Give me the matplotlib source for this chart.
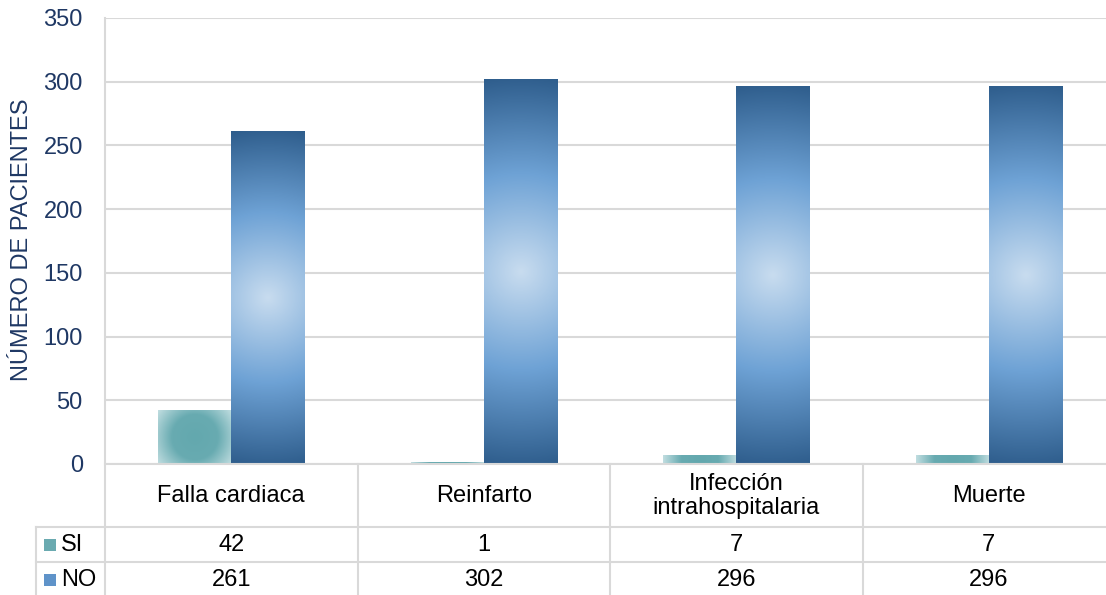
import numpy as np
import matplotlib
matplotlib.use("Agg")
import matplotlib.pyplot as plt
from matplotlib.colors import LinearSegmentedColormap
from matplotlib.patches import Rectangle

plt.rcParams['font.family'] = ['Liberation Sans', 'DejaVu Sans']

# ---- data ----
categories = ["Falla cardiaca", "Reinfarto", "Infección\nintrahospitalaria", "Muerte"]
series_names = ["SI", "NO"]
si_values = [42, 1, 7, 7]
no_values = [261, 302, 296, 296]
y_ticks = [0, 50, 100, 150, 200, 250, 300, 350]

W, H, DPI = 1106, 595, 100
fig = plt.figure(figsize=(W / DPI, H / DPI), dpi=DPI)

# plot area in pixels
left_px, right_px, top_px, zero_px = 105, 1115, 18, 464
ax = fig.add_axes([left_px / W, (H - zero_px) / H,
                   (right_px - left_px) / W, (zero_px - top_px) / H])

navy = "#1F3864"
grid_c = "#D9D9D9"
fs = 17

# gradients (distance from bar centre, normalised by half diagonal)
cmap_no = LinearSegmentedColormap.from_list(
    "no", [(0.0, "#C8DCEF"), (0.5, "#6EA2D5"), (1.0, "#2E5D8C")])
cmap_si = LinearSegmentedColormap.from_list(
    "si", [(0.0, "#63A8AE"), (0.5, "#68ABB1"), (1.0, "#C2DEE1")])

bar_w = 0.29
x = np.arange(len(categories))
px_per_x = (right_px - left_px) / 4.0
px_per_y = (zero_px - top_px) / 350.0


def gradient_bar(xc, value, cmap):
    wpx = max(int(round(bar_w * px_per_x)), 2)
    hpx = max(int(round(value * px_per_y)), 2)
    yy, xx = np.mgrid[0:hpx, 0:wpx]
    dx = (xx + 0.5) - wpx / 2.0
    dy = (yy + 0.5) - hpx / 2.0
    r = np.sqrt(dx ** 2 + dy ** 2) / np.sqrt((wpx / 2.0) ** 2 + (hpx / 2.0) ** 2)
    ax.imshow(r, cmap=cmap, vmin=0, vmax=1, aspect="auto",
              extent=(xc - bar_w / 2, xc + bar_w / 2, 0, value),
              interpolation="bilinear", zorder=3, origin="lower")


for i in x:
    gradient_bar(i - bar_w / 2, si_values[i], cmap_si)
    gradient_bar(i + bar_w / 2, no_values[i], cmap_no)

ax.set_xlim(-0.5, 3.5)
ax.set_ylim(0, 350)
ax.set_yticks(y_ticks)
ax.set_xticks([])
ax.tick_params(axis="y", length=0, pad=16, labelsize=fs, labelcolor=navy)
ax.yaxis.grid(True, color=grid_c, linewidth=1.5)
ax.set_axisbelow(True)
for s in ax.spines.values():
    s.set_visible(False)

ax.text((22 - left_px) / (right_px - left_px), 0.502, "NÚMERO DE PACIENTES",
        transform=ax.transAxes, rotation=90, ha="center", va="center",
        fontsize=fs, color=navy)


# ---- data table below the plot ----
def yfrac(py):
    return (zero_px - py) / (zero_px - top_px)


def xfrac(px):
    return (px - left_px) / (right_px - left_px)


row_lines = [527, 562, 597]
bottom = yfrac(600)
lw = 1.5
# left axis line, extended through the table
ax.plot([0, 0], [1, bottom], transform=ax.transAxes, color=grid_c, lw=lw,
        clip_on=False, zorder=1)
# category boundaries in the table
xt = ax.get_xaxis_transform()
for b in np.arange(0.5, 3.6, 1.0):
    ax.plot([b, b], [0, bottom], transform=xt, color=grid_c, lw=lw, clip_on=False)
# horizontal lines
ax.plot([0, 1], [0, 0], transform=ax.transAxes, color=grid_c, lw=lw, clip_on=False, zorder=4)
for py in row_lines:
    ax.plot([xfrac(36), 1], [yfrac(py), yfrac(py)], transform=ax.transAxes,
            color=grid_c, lw=lw, clip_on=False)
ax.plot([xfrac(36), xfrac(36)], [yfrac(527), bottom], transform=ax.transAxes,
        color=grid_c, lw=lw, clip_on=False)

# category labels
for i, c in enumerate(categories):
    ax.text(i, yfrac(496), c, transform=xt, ha="center", va="center",
            fontsize=fs, color="black", linespacing=1.1)

# value rows
row_centres = [545, 580]
key_colors = ["#6AAAB0", "#5F93C9"]
for name, vals, yc, kc in zip(series_names, [si_values, no_values], row_centres, key_colors):
    for i, v in enumerate(vals):
        ax.text(i, yfrac(yc), str(v), transform=xt, ha="center", va="center",
                fontsize=fs, color="black")
    ax.add_patch(Rectangle((xfrac(44), yfrac(yc + 6)), xfrac(56) - xfrac(44),
                           yfrac(yc - 6) - yfrac(yc + 6), transform=ax.transAxes,
                           facecolor=kc, edgecolor="none", clip_on=False))
    ax.text(xfrac(61), yfrac(yc), name, transform=ax.transAxes, ha="left",
            va="center", fontsize=fs, color="black")

fig.savefig("out.png", dpi=DPI)
